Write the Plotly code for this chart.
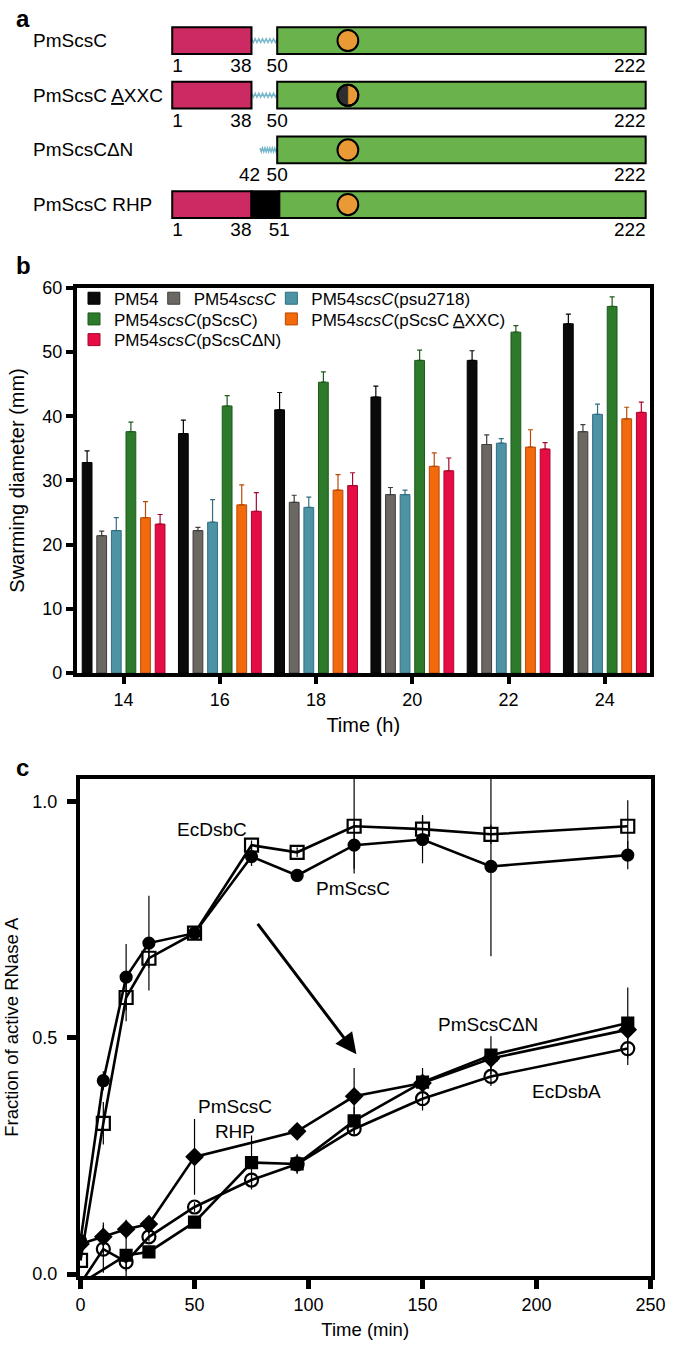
import numpy as np
import plotly.graph_objects as go

W, H = 685, 1357
FONT = "Liberation Sans"

# ---------------- panel a : domain organisation ----------------
constructs = ["PmScsC", "PmScsC <u>A</u>XXC", "PmScsCΔN", "PmScsC RHP"]
nterm_start = [1, 1, None, 1]
nterm_end = [38, 38, None, 38]
linker_start = [38, 38, 42, None]
linker_end = [50, 50, 50, None]
rhp_start = [None, None, None, 38]
rhp_end = [None, None, None, 51]
cat_start = [50, 50, 50, 51]
cat_end = [222, 222, 222, 222]
cxxc_site = 83
cxxc_mutated = [False, True, False, False]
residue_labels = [[1, 38, 50, 222], [1, 38, 50, 222], [42, 50, 222], [1, 38, 51, 222]]

# ---------------- panel b : swarming ----------------
hours = [14, 16, 18, 20, 22, 24]
strain_names = [
    "PM54",
    "PM54<i>scsC</i>",
    "PM54<i>scsC</i>(psu2718)",
    "PM54<i>scsC</i>(pScsC)",
    "PM54<i>scsC</i>(pScsC <u>A</u>XXC)",
    "PM54<i>scsC</i>(pScsCΔN)",
]
pm54 = [32.8, 37.3, 41.0, 43.0, 48.7, 54.4]
pm54_err = [1.8, 2.1, 2.7, 1.7, 1.5, 1.5]
pm54_scsc = [21.4, 22.2, 26.6, 27.8, 35.6, 37.6]
pm54_scsc_err = [0.7, 0.5, 1.1, 1.1, 1.5, 1.1]
pm54_psu = [22.2, 23.5, 25.8, 27.8, 35.8, 40.3]
pm54_psu_err = [2.0, 3.5, 1.6, 0.7, 0.7, 1.6]
pm54_pscsc = [37.6, 41.6, 45.3, 48.7, 53.1, 57.1]
pm54_pscsc_err = [1.5, 1.6, 1.6, 1.6, 1.0, 1.5]
pm54_axxc = [24.2, 26.2, 28.5, 32.2, 35.2, 39.6]
pm54_axxc_err = [2.5, 3.1, 2.4, 2.1, 2.7, 1.8]
pm54_dn = [23.2, 25.2, 29.2, 31.5, 34.9, 40.6]
pm54_dn_err = [1.5, 2.9, 2.0, 2.0, 1.0, 1.6]

# ---------------- panel c : RNase A refolding ----------------
t_dsbc = [0, 10, 20, 30, 50, 75, 95, 120, 150, 180, 240]
ecdsbc = [0.029, 0.319, 0.585, 0.668, 0.721, 0.907, 0.892, 0.947, 0.941, 0.930, 0.947]
ecdsbc_err = [0, 0.045, 0.05, 0.02, 0.01, 0.01, 0.01, 0.10, 0.03, 0.02, 0.055]
t_scsc = [0, 10, 20, 30, 50, 75, 95, 120, 150, 180, 240]
pmscsc = [0.071, 0.409, 0.628, 0.700, 0.721, 0.883, 0.843, 0.907, 0.919, 0.862, 0.886]
pmscsc_err = [0, 0.02, 0.07, 0.10, 0.01, 0.02, 0.01, 0.05, 0.05, 0.19, 0.03]
t_rhp = [0, 10, 20, 30, 50, 95, 120, 150, 180, 240]
rhp = [0.064, 0.079, 0.095, 0.106, 0.248, 0.302, 0.376, 0.404, 0.456, 0.517]
rhp_err = [0, 0.03, 0.02, 0.01, 0.08, 0.01, 0.06, 0.02, 0.02, 0.02]
t_dn = [0, 20, 30, 50, 75, 95, 120, 150, 180, 240]
scsc_dn = [-0.02, 0.040, 0.047, 0.110, 0.236, 0.233, 0.324, 0.406, 0.463, 0.531]
scsc_dn_err = [0, 0.07, 0.01, 0.01, 0.057, 0.02, 0.03, 0.03, 0.04, 0.075]
t_dsba = [0, 10, 20, 30, 50, 75, 95, 120, 150, 180, 240]
ecdsba = [-0.02, 0.053, 0.026, 0.079, 0.142, 0.199, 0.233, 0.307, 0.371, 0.418, 0.477]
ecdsba_err = [0, 0.05, 0.02, 0.01, 0.01, 0.01, 0.02, 0.01, 0.025, 0.02, 0.035]


def PX(px):
    return px / W


def PY(py):
    return 1 - py / H


fig = go.Figure()

# ---------- panel b bars ----------
bar_series = [pm54, pm54_scsc, pm54_psu, pm54_pscsc, pm54_axxc, pm54_dn]
bar_errs = [pm54_err, pm54_scsc_err, pm54_psu_err, pm54_pscsc_err, pm54_axxc_err, pm54_dn_err]
bar_colors = ["#0a0a0a", "#6b6762", "#4d93a5", "#2c7a2a", "#f26a0c", "#e60d45"]
bar_edges = ["#000000", "#3f3c39", "#2f6f80", "#1d5a1c", "#b84a05", "#a8062f"]
legend_ids = ["legend", "legend2", "legend3", "legend4", "legend5", "legend6"]
for name, vals, errs, col, edge, lg in zip(strain_names, bar_series, bar_errs,
                                           bar_colors, bar_edges, legend_ids):
    fig.add_trace(go.Bar(
        x=hours, y=vals, name=name, legend=lg,
        marker=dict(color=col, line=dict(color=edge, width=1)),
        error_y=dict(type="data", array=errs, arrayminus=[0] * len(errs),
                     symmetric=False, thickness=1.2, width=2.5, color=edge),
        xaxis="x", yaxis="y",
    ))

# ---------- panel c lines ----------
line_specs = [
    (t_dsbc, ecdsbc, ecdsbc_err, "square-open", 13),
    (t_scsc, pmscsc, pmscsc_err, "circle", 11),
    (t_rhp, rhp, rhp_err, "diamond", 12),
    (t_dn, scsc_dn, scsc_dn_err, "square", 11),
    (t_dsba, ecdsba, ecdsba_err, "circle-open", 13),
]
for tx, ty, te, sym, sz in line_specs:
    fig.add_trace(go.Scatter(
        x=tx, y=ty, mode="lines+markers", showlegend=False,
        line=dict(color="black", width=2.6),
        marker=dict(symbol=sym, size=sz, color="black",
                    line=dict(color="black", width=2.2)),
        error_y=dict(type="data", array=te, thickness=1.2, width=0, color="black"),
        xaxis="x2", yaxis="y2",
    ))

# ---------- panel a residue numbers ----------
lab_x, lab_y, lab_t, lab_pos = [], [], [], []
for r, labs in enumerate(residue_labels):
    for v in labs:
        lab_x.append(v)
        lab_y.append(r + 0.49)
        lab_t.append(str(v))
        if v == 1:
            lab_pos.append("middle right")
        elif v in (38, 42, 222):
            lab_pos.append("middle left")
        else:
            lab_pos.append("middle center")
fig.add_trace(go.Scatter(
    x=lab_x, y=lab_y, text=lab_t, mode="text", textposition=lab_pos,
    textfont=dict(size=19, color="black", family=FONT), showlegend=False,
    hoverinfo="skip", cliponaxis=False, xaxis="x3", yaxis="y3",
))

shapes = []
hh = 0.245
rx = 10.7 / 2.204
ry = 10.7 / 55.5
for r in range(len(constructs)):
    if linker_start[r] is not None:
        n = 14
        xs = np.linspace(linker_start[r], linker_end[r], n + 1)
        ys = [r + (0.035 if i % 2 else -0.035) for i in range(n + 1)]
        path = "M " + " L ".join(f"{a:.3f},{b:.3f}" for a, b in zip(xs, ys))
        shapes.append(dict(type="path", path=path, xref="x3", yref="y3",
                           line=dict(color="#7ab8cc", width=1.5)))
    if nterm_start[r] is not None:
        shapes.append(dict(type="rect", xref="x3", yref="y3",
                           x0=nterm_start[r], x1=nterm_end[r], y0=r - hh, y1=r + hh,
                           fillcolor="#cc2a63", line=dict(color="black", width=2)))
    if rhp_start[r] is not None:
        shapes.append(dict(type="rect", xref="x3", yref="y3",
                           x0=rhp_start[r], x1=rhp_end[r], y0=r - hh, y1=r + hh,
                           fillcolor="black", line=dict(color="black", width=2)))
    shapes.append(dict(type="rect", xref="x3", yref="y3",
                       x0=cat_start[r], x1=cat_end[r], y0=r - hh, y1=r + hh,
                       fillcolor="#6ab24c", line=dict(color="black", width=2)))
    shapes.append(dict(type="circle", xref="x3", yref="y3",
                       x0=cxxc_site - rx, x1=cxxc_site + rx, y0=r - ry, y1=r + ry,
                       fillcolor="#e99a35", line=dict(color="black", width=2)))
    if cxxc_mutated[r]:
        ang = np.linspace(np.pi / 2, 3 * np.pi / 2, 30)
        pts = [(cxxc_site + rx * np.cos(a), r + ry * np.sin(a)) for a in ang]
        path = "M " + " L ".join(f"{a:.3f},{b:.4f}" for a, b in pts) + " Z"
        shapes.append(dict(type="path", path=path, xref="x3", yref="y3",
                           fillcolor="#2e2e2e", line=dict(color="#2e2e2e", width=0.5)))
        shapes.append(dict(type="circle", xref="x3", yref="y3",
                           x0=cxxc_site - rx, x1=cxxc_site + rx, y0=r - ry, y1=r + ry,
                           fillcolor="rgba(0,0,0,0)", line=dict(color="black", width=2)))

annotations = []
row_py = [31, 86.5, 142, 197.5]
for r, name in enumerate(constructs):
    annotations.append(dict(text=name, x=PX(28), y=PY(row_py[r]), xref="paper", yref="paper",
                            xanchor="left", yanchor="middle", showarrow=False,
                            font=dict(size=19, family=FONT, color="black")))

for letter, px_, py_ in [("a", 10, 9), ("b", 10, 259), ("c", 10, 769)]:
    annotations.append(dict(text=f"<b>{letter}</b>", x=PX(px_), y=PY(py_), xref="paper",
                            yref="paper", xanchor="left", yanchor="middle", showarrow=False,
                            font=dict(size=24, family=FONT, color="black")))

c_labels = [("EcDsbC", 57.6, 0.94), ("PmScsC", 119.6, 0.816), ("PmScsCΔN", 178.5, 0.527),
            ("EcDsbA", 213, 0.386), ("PmScsC<br>RHP", 67.8, 0.328)]
for txt, xx, yy in c_labels:
    annotations.append(dict(text=txt, x=xx, y=yy, xref="x2", yref="y2", showarrow=False,
                            font=dict(size=19, family=FONT, color="black")))

annotations.append(dict(text="", x=121, y=0.465, ax=77.2, ay=0.744, xref="x2", yref="y2",
                        axref="x2", ayref="y2", showarrow=True, arrowhead=2, arrowsize=1.4,
                        arrowwidth=3, arrowcolor="black", standoff=0, startstandoff=0))

axis_common = dict(showgrid=False, zeroline=False, showline=True, linecolor="black",
                   linewidth=4, mirror=True, ticks="outside", tickcolor="black",
                   tickfont=dict(size=18, family=FONT, color="black"))

legend_pos = [(112, 293), (194, 293), (315, 293), (112, 314), (315, 314), (112, 335)]
legend_layout = {}
for lg, (tx, ty) in zip(legend_ids, legend_pos):
    legend_layout[lg] = dict(x=PX(tx - 40), y=PY(ty), xanchor="left", yanchor="middle",
                             bgcolor="rgba(0,0,0,0)", borderwidth=0,
                             font=dict(size=17, family=FONT, color="black"))

fig.update_layout(
    width=W, height=H, margin=dict(l=0, r=0, t=0, b=0),
    paper_bgcolor="white", plot_bgcolor="white",
    font=dict(family=FONT, color="black"),
    barmode="group", bargap=0.09, bargroupgap=0.33,
    xaxis=dict(domain=[PX(75), PX(664)], range=[13.03, 24.93], tickvals=hours,
               ticklen=7, tickwidth=4, anchor="y",
               title=dict(text="Time (h)", font=dict(size=20, family=FONT), standoff=10),
               **axis_common),
    yaxis=dict(domain=[PY(673), PY(282)], range=[0, 60], tickvals=[0, 10, 20, 30, 40, 50, 60],
               ticklen=7, tickwidth=4, anchor="x",
               title=dict(text="Swarming diameter (mm)", font=dict(size=20, family=FONT), standoff=13),
               **axis_common),
    xaxis2=dict(domain=[PX(78), PX(665)], range=[-0.3, 250], tickvals=[0, 50, 100, 150, 200, 250],
                ticklen=9, tickwidth=5, anchor="y2",
                title=dict(text="Time (min)", font=dict(size=18.5, family=FONT), standoff=10),
                **axis_common),
    yaxis2=dict(domain=[PY(1285), PY(780)], range=[-0.004, 1.048], tickvals=[0, 0.5, 1.0],
                ticktext=["0.0", "0.5", "1.0"], ticklen=9, tickwidth=5, anchor="x2",
                ticklabelstandoff=6,
                title=dict(text="Fraction of active RNase A", font=dict(size=18.5, family=FONT), standoff=10),
                **axis_common),
    xaxis3=dict(domain=[PX(166.4), PX(666.6)], range=[-2, 225], visible=False, anchor="y3",
                fixedrange=True),
    yaxis3=dict(domain=[PY(225.25), PY(3.25)], range=[3.5, -0.5], visible=False, anchor="x3",
                fixedrange=True),
    shapes=shapes,
    annotations=annotations,
    **legend_layout,
)

fig.write_html("out.html", config={"displayModeBar": False},
               post_script="document.body.style.margin='0px';")
